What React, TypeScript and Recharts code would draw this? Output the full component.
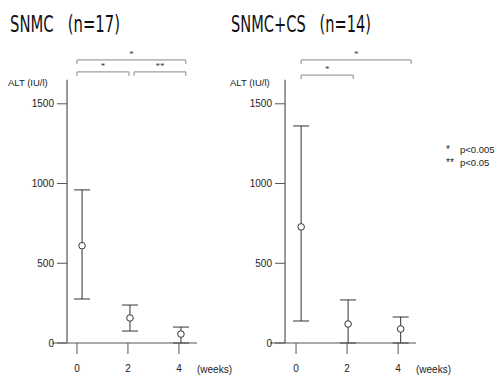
import React from 'react';
import { ScatterChart, Scatter, XAxis, YAxis, ErrorBar, ReferenceLine } from 'recharts';

const weeks = [0, 2, 4];
const yTicks = [0, 500, 1000, 1500];

// SNMC (n=17): ALT mean with range
const snmcPos = [0.2, 2.08, 4.08];
const snmcMean = [610, 157, 56];
const snmcUpper = [960, 238, 100];
const snmcLower = [276, 75, 0];

// SNMC+CS (n=14)
const csPos = [0.2, 2.04, 4.1];
const csMean = [728, 119, 88];
const csUpper = [1361, 270, 163];
const csLower = [138, 0, 0];

// significance brackets (weeks from/to, height in IU/l)
const snmcBrackets = [
  { from: 0, to: 4.27, at: 1775, mark: '*' },
  { from: 0, to: 2.04, at: 1700, mark: '*' },
  { from: 2.24, to: 4.27, at: 1700, mark: '**' },
];
const csBrackets = [
  { from: 0.2, to: 4.51, at: 1775, mark: '*' },
  { from: 0.2, to: 2.24, at: 1680, mark: '*' },
];

const AXIS = '#555';
const FONT = '"Liberation Sans", Arial, sans-serif';

const toRows = (pos: number[], mean: number[], upper: number[], lower: number[]) =>
  pos.map((x, i) => ({ x, y: mean[i], err: [mean[i] - lower[i], upper[i] - mean[i]] }));

interface PanelProps {
  left: number;
  width: number;
  yWidth: number;
  rightPad: number;
  xDomain: [number, number];
  yAxisAt: number;
  axisPx: number;
  rows: { x: number; y: number; err: number[] }[];
  brackets: { from: number; to: number; at: number; mark: string }[];
}

function Panel({ left, width, yWidth, rightPad, xDomain, yAxisAt, axisPx, rows, brackets }: PanelProps) {
  return (
    <div style={{ position: 'absolute', left, top: 0 }}>
      <ScatterChart width={width} height={375} margin={{ top: 40, left: 0, right: rightPad, bottom: 2 }}>
        <XAxis
          type="number"
          dataKey="x"
          domain={xDomain}
          ticks={weeks}
          allowDataOverflow
          height={30}
          tickSize={11}
          stroke={AXIS}
          tick={(p: any) => (
            <text x={p.x} y={372} textAnchor="middle" fontSize={10} fontFamily={FONT} fill="#222">
              {p.payload.value}
            </text>
          )}
        />
        <YAxis
          type="number"
          dataKey="y"
          domain={[0, 1900]}
          ticks={yTicks}
          width={yWidth}
          axisLine={false}
          tickLine={false}
          tick={(p: any) => (
            <g>
              <line x1={axisPx - 10} x2={axisPx} y1={p.y} y2={p.y} stroke={AXIS} />
              <text x={axisPx - 13} y={p.y} dy={3.5} textAnchor="end" fontSize={10} fontFamily={FONT} fill="#222">
                {p.payload.value}
              </text>
            </g>
          )}
        />
        <ReferenceLine
          segment={[{ x: yAxisAt, y: 0 }, { x: yAxisAt, y: 1650 }]}
          stroke="#777"
          strokeWidth={1.5}
        />
        {brackets.map((b, i) => (
          <ReferenceLine
            key={'h' + i}
            segment={[{ x: b.from, y: b.at }, { x: b.to, y: b.at }]}
            stroke="#888"
            label={{ value: b.mark, position: 'top', offset: 3, fontSize: 9, fill: '#333' }}
          />
        ))}
        {brackets.map((b, i) => (
          <ReferenceLine key={'l' + i} segment={[{ x: b.from, y: b.at }, { x: b.from, y: b.at - 25 }]} stroke="#888" />
        ))}
        {brackets.map((b, i) => (
          <ReferenceLine key={'r' + i} segment={[{ x: b.to, y: b.at }, { x: b.to, y: b.at - 25 }]} stroke="#888" />
        ))}
        <Scatter
          data={rows}
          isAnimationActive={false}
          shape={(p: any) => <circle cx={p.cx} cy={p.cy} r={3.3} fill="#fff" stroke="#333" strokeWidth={1} />}
        >
          <ErrorBar dataKey="err" direction="y" width={8} stroke="#333" strokeWidth={1} />
        </Scatter>
      </ScatterChart>
    </div>
  );
}

export default function App() {
  return (
    <div style={{ position: 'absolute', left: 0, top: 0, width: 498, height: 375, background: '#fff' }}>
      <Panel
        left={0}
        width={250}
        yWidth={52}
        rightPad={53}
        xDomain={[-0.98, 4.71]}
        yAxisAt={-0.39}
        axisPx={67}
        rows={toRows(snmcPos, snmcMean, snmcUpper, snmcLower)}
        brackets={snmcBrackets}
      />
      <Panel
        left={230}
        width={268}
        yWidth={40}
        rightPad={82}
        xDomain={[-1.02, 4.7]}
        yAxisAt={-0.43}
        axisPx={55}
        rows={toRows(csPos, csMean, csUpper, csLower)}
        brackets={csBrackets}
      />
      <svg width={498} height={375} style={{ position: 'absolute', left: 0, top: 0, pointerEvents: 'none' }}>
        <g fontFamily='"Liberation Sans Narrow", "DejaVu Sans Condensed", sans-serif' fontSize={23} fill="#111">
          <text x={10} y={32} textLength={110} lengthAdjust="spacingAndGlyphs">{'SNMC\u00A0\u00A0\u00A0(n=17)'}</text>
          <text x={231} y={32} textLength={140} lengthAdjust="spacingAndGlyphs">{'SNMC+CS\u00A0\u00A0\u00A0(n=14)'}</text>
        </g>
        <g fontFamily={FONT} fontSize={9.5} fill="#222">
          <text x={8} y={86}>ALT (IU/l)</text>
          <text x={230} y={86}>ALT (IU/l)</text>
          <text x={197} y={373} fontSize={10}>(weeks)</text>
          <text x={416} y={373} fontSize={10}>(weeks)</text>
          <text x={446} y={153} fontSize={10}>*</text>
          <text x={460} y={153}>p&lt;0.005</text>
          <text x={446} y={166} fontSize={10}>**</text>
          <text x={460} y={166}>p&lt;0.05</text>
        </g>
      </svg>
    </div>
  );
}
